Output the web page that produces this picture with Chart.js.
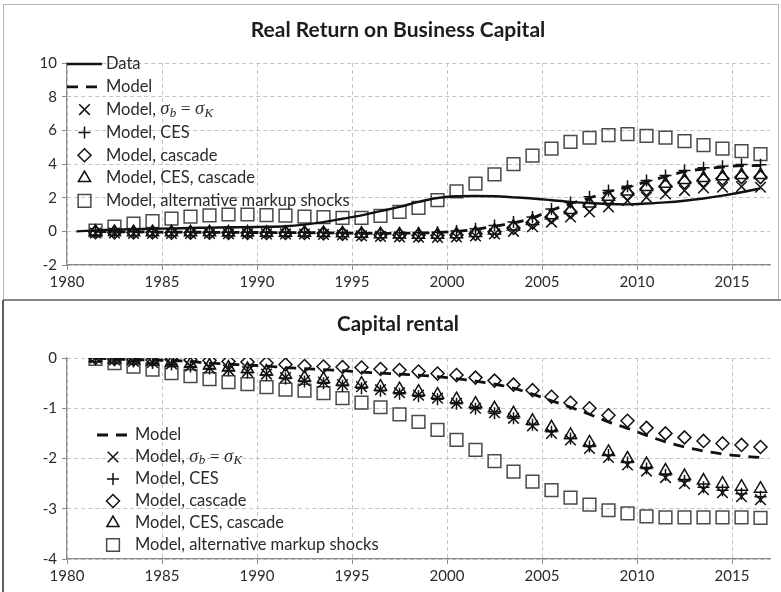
<!DOCTYPE html>
<html>
<head>
<meta charset="utf-8">
<script src="https://cdn.jsdelivr.net/npm/chart.js@4.4.1/dist/chart.umd.min.js"></script>
<style>
  html, body { margin: 0; padding: 0; background: #fff; }
  #wrap { position: relative; width: 781px; height: 592px; overflow: hidden; background: #fff; }
  canvas { position: absolute; left: 0; }
  #c1 { top: 0; }
  #c2 { top: 300px; }
  .frame { position: absolute; pointer-events: none; box-sizing: border-box; }
  #f1 { left: 3px; top: 4px; width: 776px; height: 296px; border: 1.5px solid #b5b5b5; }
  #sep { left: 3px; top: 299px; width: 778px; height: 2px; background: #858585; }
  #f2 { left: 2px; top: 300px; width: 2px; height: 292px; background: #5e5e5e; }
</style>
</head>
<body>
<div id="wrap">
  <canvas id="c1" width="781" height="300" style="width:781px;height:300px"></canvas>
  <canvas id="c2" width="781" height="292" style="width:781px;height:292px"></canvas>
  <div class="frame" id="f1"></div>
  <div class="frame" id="sep"></div>
  <div class="frame" id="f2"></div>
</div>
<script>
// Annual observations, plotted at mid-year
const dataYears = [1980, 1981, 1982, 1983, 1984, 1985, 1986, 1987, 1988, 1989,
  1990, 1991, 1992, 1993, 1994, 1995, 1996, 1997, 1998, 1999,
  2000, 2001, 2002, 2003, 2004, 2005, 2006, 2007, 2008, 2009,
  2010, 2011, 2012, 2013, 2014, 2015, 2016];
const modelYears = [1981, 1982, 1983, 1984, 1985, 1986, 1987, 1988, 1989,
  1990, 1991, 1992, 1993, 1994, 1995, 1996, 1997, 1998, 1999,
  2000, 2001, 2002, 2003, 2004, 2005, 2006, 2007, 2008, 2009,
  2010, 2011, 2012, 2013, 2014, 2015, 2016];
const xTicks = [1980, 1985, 1990, 1995, 2000, 2005, 2010, 2015];

const seriesLabels = ['Data', 'Model', 'Model, σ_b = σ_K', 'Model, CES', 'Model, cascade',
  'Model, CES, cascade', 'Model, alternative markup shocks'];

// Real return on business capital
const returnData = [0, 0.05, 0.1, 0.13, 0.15, 0.17, 0.2, 0.22, 0.24, 0.25,
  0.27, 0.3, 0.4, 0.55, 0.75, 0.95, 1.2, 1.45, 1.75, 1.98,
  2.08, 2.1, 2.08, 2.02, 1.95, 1.85, 1.75, 1.68, 1.62, 1.6,
  1.65, 1.72, 1.82, 1.95, 2.12, 2.32, 2.55];
const returnModel = [0.0, -0.02, -0.03, -0.04, -0.05, -0.05, -0.06, -0.06, -0.07, -0.07, -0.08, -0.08, -0.09, -0.1,
  -0.11, -0.12, -0.12, -0.1, -0.07, 0.0, 0.12, 0.3, 0.5, 0.8,
  1.25, 1.65, 1.98, 2.35, 2.62, 2.95, 3.25, 3.55, 3.7, 3.82, 3.9, 3.9];
const returnSigma = [-0.1, -0.1, -0.12, -0.12, -0.13, -0.13, -0.13, -0.14, -0.14, -0.15, -0.15, -0.16, -0.18, -0.22,
  -0.26, -0.3, -0.33, -0.35, -0.36, -0.33, -0.27, -0.15, 0.0, 0.28,
  0.55, 0.85, 1.15, 1.45, 1.82, 2.02, 2.22, 2.42, 2.58, 2.62, 2.66, 2.62];
const returnCES = [0.0, -0.02, -0.03, -0.03, -0.04, -0.04, -0.05, -0.05, -0.05, -0.06, -0.06, -0.06, -0.07, -0.08,
  -0.09, -0.1, -0.1, -0.08, -0.05, 0.02, 0.15, 0.35, 0.55, 0.85,
  1.33, 1.72, 2.05, 2.42, 2.68, 3.02, 3.32, 3.62, 3.77, 3.87, 3.97, 3.95];
const returnCascade = [-0.05, -0.06, -0.07, -0.07, -0.08, -0.08, -0.08, -0.09, -0.09, -0.1, -0.1, -0.1, -0.12, -0.15,
  -0.18, -0.2, -0.22, -0.24, -0.25, -0.22, -0.15, -0.02, 0.2, 0.52,
  0.85, 1.15, 1.55, 1.95, 2.24, 2.52, 2.68, 2.92, 3.04, 3.14, 3.22, 3.22];
const returnCESCascade = [-0.03, -0.04, -0.05, -0.05, -0.06, -0.06, -0.06, -0.07, -0.07, -0.08, -0.08, -0.08, -0.1, -0.12,
  -0.15, -0.17, -0.19, -0.2, -0.2, -0.17, -0.1, 0.05, 0.28, 0.62,
  0.95, 1.27, 1.66, 2.05, 2.36, 2.64, 2.82, 3.05, 3.17, 3.27, 3.35, 3.35];
const returnAltMarkup = [0.05, 0.28, 0.46, 0.6, 0.75, 0.88, 0.95, 1.0, 1.0, 0.96, 0.93, 0.88, 0.85, 0.8,
  0.8, 0.92, 1.15, 1.4, 1.85, 2.38, 2.84, 3.39, 3.99, 4.5,
  4.92, 5.32, 5.56, 5.71, 5.77, 5.67, 5.57, 5.36, 5.12, 4.92, 4.76, 4.58];

// Capital rental
const rentalModel = [0, -0.02, -0.03, -0.04, -0.05, -0.07, -0.1, -0.12, -0.14, -0.16, -0.19, -0.21, -0.23, -0.25,
  -0.28, -0.3, -0.32, -0.34, -0.37, -0.41, -0.46, -0.52, -0.6, -0.72,
  -0.85, -0.98, -1.12, -1.27, -1.4, -1.54, -1.67, -1.77, -1.85, -1.91, -1.95, -1.98];
const rentalSigma = [0, -0.04, -0.07, -0.09, -0.12, -0.16, -0.2, -0.24, -0.27, -0.32, -0.39, -0.45, -0.48, -0.53,
  -0.57, -0.63, -0.69, -0.74, -0.8, -0.9, -1.0, -1.09, -1.2, -1.35,
  -1.5, -1.63, -1.8, -1.98, -2.13, -2.25, -2.38, -2.5, -2.62, -2.68, -2.76, -2.82];
const rentalCES = [0, -0.04, -0.07, -0.1, -0.13, -0.17, -0.21, -0.25, -0.29, -0.34, -0.41, -0.47, -0.5, -0.55,
  -0.6, -0.65, -0.71, -0.76, -0.82, -0.91, -1.01, -1.1, -1.2, -1.33,
  -1.47, -1.6, -1.76, -1.93, -2.08, -2.2, -2.33, -2.45, -2.57, -2.63, -2.7, -2.76];
const rentalCascade = [0, -0.02, -0.03, -0.04, -0.03, -0.04, -0.05, -0.07, -0.08, -0.1, -0.13, -0.16, -0.17, -0.18,
  -0.19, -0.22, -0.24, -0.27, -0.31, -0.34, -0.39, -0.45, -0.53, -0.64,
  -0.77, -0.89, -1.0, -1.14, -1.25, -1.39, -1.5, -1.58, -1.65, -1.7, -1.73, -1.77];
const rentalCESCascade = [0, -0.03, -0.05, -0.07, -0.09, -0.12, -0.15, -0.19, -0.22, -0.27, -0.33, -0.39, -0.42, -0.47,
  -0.51, -0.57, -0.62, -0.67, -0.73, -0.82, -0.91, -1.0, -1.1, -1.25,
  -1.38, -1.53, -1.68, -1.87, -2.0, -2.11, -2.24, -2.35, -2.44, -2.5, -2.56, -2.6];
const rentalAltMarkup = [-0.02, -0.1, -0.17, -0.23, -0.3, -0.36, -0.42, -0.48, -0.52, -0.58, -0.63, -0.65, -0.7, -0.8,
  -0.89, -0.98, -1.12, -1.27, -1.43, -1.63, -1.83, -2.05, -2.26, -2.46,
  -2.63, -2.78, -2.92, -3.03, -3.09, -3.15, -3.17, -3.17, -3.17, -3.17, -3.17, -3.18];

const INK = '#111';
const TEXT = '#2b2b2b';
const TICK_FONT = { family: 'Lato', size: 15 };
const LEGEND_FONT = { family: 'Lato', size: 16.5 };

function points(yrs, vals) {
  return yrs.map((yr, i) => ({ x: yr + 0.5, y: vals[i] }));
}

// Marker look of each model variant
const markerStyles = {
  'Model, σ_b = σ_K': { pointStyle: 'crossRot', pointRadius: 7.5, color: INK },
  'Model, CES': { pointStyle: 'cross', pointRadius: 6, color: INK },
  'Model, cascade': { pointStyle: 'rectRot', pointRadius: 6.5, color: INK },
  'Model, CES, cascade': { pointStyle: 'triangle', pointRadius: 7, color: INK },
  'Model, alternative markup shocks': { pointStyle: 'rect', pointRadius: 9, color: '#4a4a4a' }
};

function lineSet(label, yrs, vals, dash) {
  return {
    label, data: points(yrs, vals),
    borderColor: INK, borderWidth: dash ? 2.8 : 2.4, borderDash: dash || [],
    pointRadius: 0, tension: 0.35, fill: false
  };
}
function markerSet(label, vals) {
  const m = markerStyles[label];
  return {
    label, data: points(modelYears, vals), showLine: false,
    pointStyle: m.pointStyle, pointRadius: m.pointRadius,
    pointBorderColor: m.color, pointBackgroundColor: 'rgba(0,0,0,0)',
    pointBorderWidth: 1.5, borderColor: m.color, borderWidth: 0
  };
}

// Draws "σ_b"-style tokens as italic symbols with subscripts
function drawRichLabel(ctx, text, x, y, font) {
  const parts = text.split(/(σ_[A-Za-z])/);
  let cx = x, math = false;
  ctx.textBaseline = 'middle';
  ctx.textAlign = 'left';
  ctx.fillStyle = TEXT;
  parts.forEach(p => {
    if (!p) return;
    const m = p.match(/^σ_([A-Za-z])$/);
    if (m) {
      ctx.font = `italic ${font.size + 2}px "Liberation Serif"`;
      ctx.fillText('σ', cx, y);
      cx += ctx.measureText('σ').width + 0.5;
      ctx.font = `italic ${Math.round(font.size * 0.78)}px "Liberation Serif"`;
      ctx.fillText(m[1], cx, y + 4);
      cx += ctx.measureText(m[1]).width;
      math = true;
    } else {
      ctx.font = math ? `${font.size + 1}px "Liberation Serif"` : `${font.size}px ${font.family}`;
      ctx.fillText(p, cx, y);
      cx += ctx.measureText(p).width;
    }
  });
}

const insetLegend = {
  id: 'insetLegend',
  afterDraw(chart, args, opts) {
    const ctx = chart.ctx;
    ctx.save();
    chart.data.datasets.forEach((ds, i) => {
      const y = opts.y0 + i * opts.dy;
      if (ds.showLine !== false) {
        ctx.beginPath();
        ctx.setLineDash(ds.borderDash || []);
        ctx.lineDashOffset = 0;
        ctx.strokeStyle = ds.borderColor;
        ctx.lineWidth = ds.borderWidth;
        ctx.moveTo(opts.x0, y);
        ctx.lineTo(opts.x1, y);
        ctx.stroke();
        ctx.setLineDash([]);
      }
      if (ds.pointRadius > 0) {
        ctx.strokeStyle = ds.pointBorderColor;
        ctx.fillStyle = 'rgba(0,0,0,0)';
        ctx.lineWidth = ds.pointBorderWidth;
        Chart.helpers.drawPoint(ctx, {
          pointStyle: ds.pointStyle, radius: ds.pointRadius,
          rotation: 0, borderWidth: ds.pointBorderWidth
        }, (opts.x0 + opts.x1) / 2, y);
      }
      drawRichLabel(ctx, ds.label, opts.textX, y, LEGEND_FONT);
    });
    ctx.restore();
  }
};

function makeChart(id, datasets, cfg) {
  return new Chart(document.getElementById(id), {
    type: 'line',
    data: { datasets },
    plugins: [insetLegend],
    options: {
      responsive: false,
      animation: false,
      devicePixelRatio: 1,
      layout: { padding: { left: 26, right: 11, top: 0, bottom: 0 } },
      plugins: {
        legend: { display: false },
        tooltip: { enabled: false },
        title: {
          display: true, text: cfg.title, color: '#1c1c1c',
          font: { family: 'Lato', size: cfg.titleSize, weight: 'bold', lineHeight: 1.2 },
          padding: cfg.titlePad
        },
        insetLegend: cfg.legend
      },
      scales: {
        x: {
          type: 'linear', min: 1980, max: 2017,
          afterBuildTicks: s => { s.ticks = xTicks.map(v => ({ value: v })); },
          afterFit: s => { s.height = cfg.xHeight; },
          ticks: { color: TEXT, font: TICK_FONT, padding: 3, maxRotation: 0, callback: v => String(v) },
          grid: { color: '#c4c4c4', lineWidth: 1, tickLength: 5, tickColor: '#8a8a8a', tickWidth: 1 },
          border: { display: true, color: '#8a8a8a', width: 1.2, dash: [4, 3] }
        },
        y: {
          min: cfg.yMin, max: cfg.yMax,
          ticks: { stepSize: cfg.yStep, color: TEXT, font: TICK_FONT, padding: 5, callback: v => String(v) },
          afterFit: s => { s.width = 41; },
          grid: { color: '#c4c4c4', lineWidth: 1, tickLength: 5, tickColor: '#8a8a8a', tickWidth: 1 },
          border: { display: true, color: '#8a8a8a', width: 1.2, dash: [4, 3] }
        }
      }
    }
  });
}

makeChart('c1', [
  lineSet(seriesLabels[0], dataYears, returnData),
  lineSet(seriesLabels[1], modelYears, returnModel, [11, 8]),
  markerSet(seriesLabels[2], returnSigma),
  markerSet(seriesLabels[3], returnCES),
  markerSet(seriesLabels[4], returnCascade),
  markerSet(seriesLabels[5], returnCESCascade),
  markerSet(seriesLabels[6], returnAltMarkup)
], {
  title: 'Real Return on Business Capital',
  titleSize: 21,
  titlePad: { top: 17.4, bottom: 20.4 },
  xHeight: 35, yMin: -2, yMax: 10, yStep: 2,
  legend: { x0: 67, x1: 102, textX: 106, y0: 64, dy: 22.8 }
});

makeChart('c2', [
  lineSet(seriesLabels[1], modelYears, rentalModel, [11, 8]),
  markerSet(seriesLabels[2], rentalSigma),
  markerSet(seriesLabels[3], rentalCES),
  markerSet(seriesLabels[4], rentalCascade),
  markerSet(seriesLabels[5], rentalCESCascade),
  markerSet(seriesLabels[6], rentalAltMarkup)
], {
  title: 'Capital rental',
  titleSize: 20.5,
  titlePad: { top: 11.7, bottom: 21.7 },
  xHeight: 33, yMin: -4, yMax: 0, yStep: 1,
  legend: { x0: 97, x1: 129, textX: 135, y0: 135, dy: 22 }
});
</script>
</body>
</html>
